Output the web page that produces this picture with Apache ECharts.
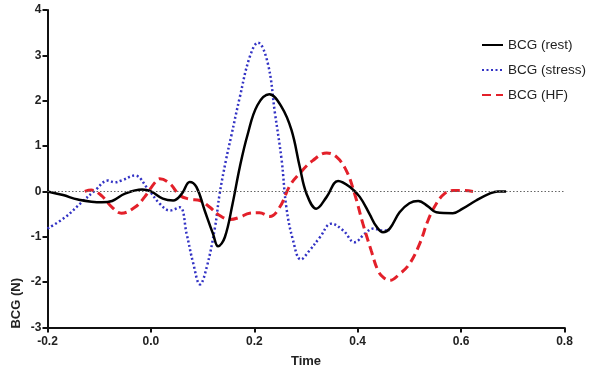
<!DOCTYPE html>
<html>
<head>
<meta charset="utf-8">
<script src="https://cdn.jsdelivr.net/npm/echarts@6/dist/echarts.min.js"></script>
<style>
html,body{margin:0;padding:0;background:#fff;}
#chart{width:600px;height:386px;}
</style>
</head>
<body>
<div id="chart"></div>
<script>
var seriesNames = ['BCG (rest)', 'BCG (stress)', 'BCG (HF)'];
var xTicks = [-0.2, 0.0, 0.2, 0.4, 0.6, 0.8];
var yTicks = [-3, -2, -1, 0, 1, 2, 3, 4];

var restData = [[-0.2,0],[-0.17,-0.08],[-0.141,-0.18],[-0.095,-0.24],[-0.075,-0.21],[-0.05,-0.05],[-0.017,0.04],[0.0,0.0],[0.023,-0.16],[0.043,-0.2],[0.06,-0.05],[0.075,0.21],[0.088,0.1],[0.104,-0.42],[0.12,-0.93],[0.13,-1.21],[0.143,-1.01],[0.158,-0.27],[0.172,0.54],[0.187,1.25],[0.206,1.9],[0.229,2.14],[0.253,1.86],[0.272,1.35],[0.288,0.54],[0.301,-0.05],[0.32,-0.38],[0.34,-0.12],[0.362,0.23],[0.385,0.1],[0.404,-0.12],[0.423,-0.5],[0.436,-0.77],[0.449,-0.9],[0.462,-0.82],[0.481,-0.46],[0.5,-0.26],[0.517,-0.21],[0.536,-0.33],[0.552,-0.46],[0.584,-0.48],[0.603,-0.38],[0.629,-0.2],[0.655,-0.05],[0.671,0],[0.687,0]];

var stressData = [[-0.2,-0.82],[-0.166,-0.57],[-0.134,-0.24],[-0.108,0.02],[-0.083,0.24],[-0.07,0.2],[-0.057,0.24],[-0.031,0.35],[-0.006,0.06],[0.017,-0.27],[0.037,-0.42],[0.056,-0.35],[0.069,-0.93],[0.082,-1.59],[0.095,-2.05],[0.108,-1.67],[0.124,-0.79],[0.133,-0.05],[0.145,0.68],[0.155,1.2],[0.172,2.08],[0.191,2.96],[0.207,3.28],[0.226,2.83],[0.24,1.72],[0.253,0.68],[0.262,-0.35],[0.275,-1.08],[0.29,-1.5],[0.307,-1.3],[0.327,-1.01],[0.349,-0.71],[0.372,-0.86],[0.394,-1.12],[0.414,-0.93],[0.43,-0.82],[0.449,-0.86],[0.462,-0.86]];

var hfData = [[-0.128,0],[-0.115,0.03],[-0.095,-0.1],[-0.075,-0.35],[-0.057,-0.48],[-0.031,-0.35],[-0.012,-0.12],[0.008,0.2],[0.017,0.28],[0.037,0.17],[0.056,-0.09],[0.075,-0.17],[0.095,-0.2],[0.114,-0.35],[0.133,-0.53],[0.153,-0.62],[0.172,-0.57],[0.191,-0.48],[0.21,-0.47],[0.23,-0.55],[0.249,-0.35],[0.269,0.13],[0.288,0.4],[0.313,0.68],[0.34,0.85],[0.359,0.76],[0.378,0.46],[0.394,-0.05],[0.41,-0.71],[0.426,-1.3],[0.439,-1.74],[0.449,-1.89],[0.462,-1.96],[0.481,-1.82],[0.5,-1.6],[0.52,-1.15],[0.536,-0.64],[0.552,-0.27],[0.568,-0.05],[0.584,0.02],[0.603,0.02],[0.623,0]];

var FONT = '"Liberation Sans", Arial, sans-serif';
var chart = echarts.init(document.getElementById('chart'), null, {renderer: 'canvas'});
chart.setOption({
  backgroundColor: '#ffffff',
  animation: false,
  grid: {left: 47.5, right: 35.5, top: 10, bottom: 58.5, containLabel: false},
  legend: {
    orient: 'vertical',
    left: 476,
    top: 33,
    itemWidth: 21,
    itemHeight: 14,
    itemGap: 11,
    itemStyle: {opacity: 0, borderWidth: 0},
    textStyle: {fontFamily: FONT, fontSize: 13.5, color: '#222'},
    data: seriesNames
  },
  xAxis: {
    type: 'value',
    min: xTicks[0],
    max: xTicks[xTicks.length - 1],
    interval: 0.2,
    name: 'Time',
    nameLocation: 'middle',
    nameGap: 27,
    nameTextStyle: {fontFamily: FONT, fontSize: 13, fontWeight: 'bold', color: '#222'},
    axisLine: {onZero: false, lineStyle: {color: '#111', width: 2}},
    axisTick: {show: true, inside: false, length: 5, lineStyle: {color: '#111', width: 2}},
    axisLabel: {fontFamily: FONT, fontSize: 12, fontWeight: 'bold', color: '#222', margin: 8,
      formatter: function (v) { return v.toFixed(1); }},
    splitLine: {show: false}
  },
  yAxis: {
    type: 'value',
    min: yTicks[0],
    max: yTicks[yTicks.length - 1],
    interval: 1,
    axisLine: {onZero: false, lineStyle: {color: '#111', width: 2}},
    axisTick: {show: true, inside: false, length: 5, lineStyle: {color: '#111', width: 2}},
    axisLabel: {fontFamily: FONT, fontSize: 12, fontWeight: 'bold', color: '#222', margin: 6},
    splitLine: {show: false}
  },
  graphic: [{
    type: 'text',
    left: 10,
    top: 278,
    rotation: Math.PI / 2,
    style: {text: 'BCG (N)', fontFamily: FONT, fontSize: 13, fontWeight: 'bold', fill: '#222'}
  }],
  series: [
    {
      name: seriesNames[0], type: 'line', data: restData, smooth: 0.4,
      symbol: 'none', z: 4,
      lineStyle: {color: '#000', width: 2.5},
      itemStyle: {color: '#000'},
      markLine: {
        silent: true, symbol: 'none', label: {show: false},
        lineStyle: {color: '#666', width: 1, type: [1.5, 2]},
        data: [{yAxis: 0}]
      }
    },
    {
      name: seriesNames[1], type: 'line', data: stressData, smooth: 0.4,
      symbol: 'none', z: 3,
      lineStyle: {color: '#3232c4', width: 2.5, type: [2, 2.5]},
      itemStyle: {color: '#3232c4'}
    },
    {
      name: seriesNames[2], type: 'line', data: hfData, smooth: 0.4,
      symbol: 'none', z: 3,
      lineStyle: {color: '#e3202a', width: 3, type: [9, 5]},
      itemStyle: {color: '#e3202a'}
    }
  ]
});
</script>
</body>
</html>
